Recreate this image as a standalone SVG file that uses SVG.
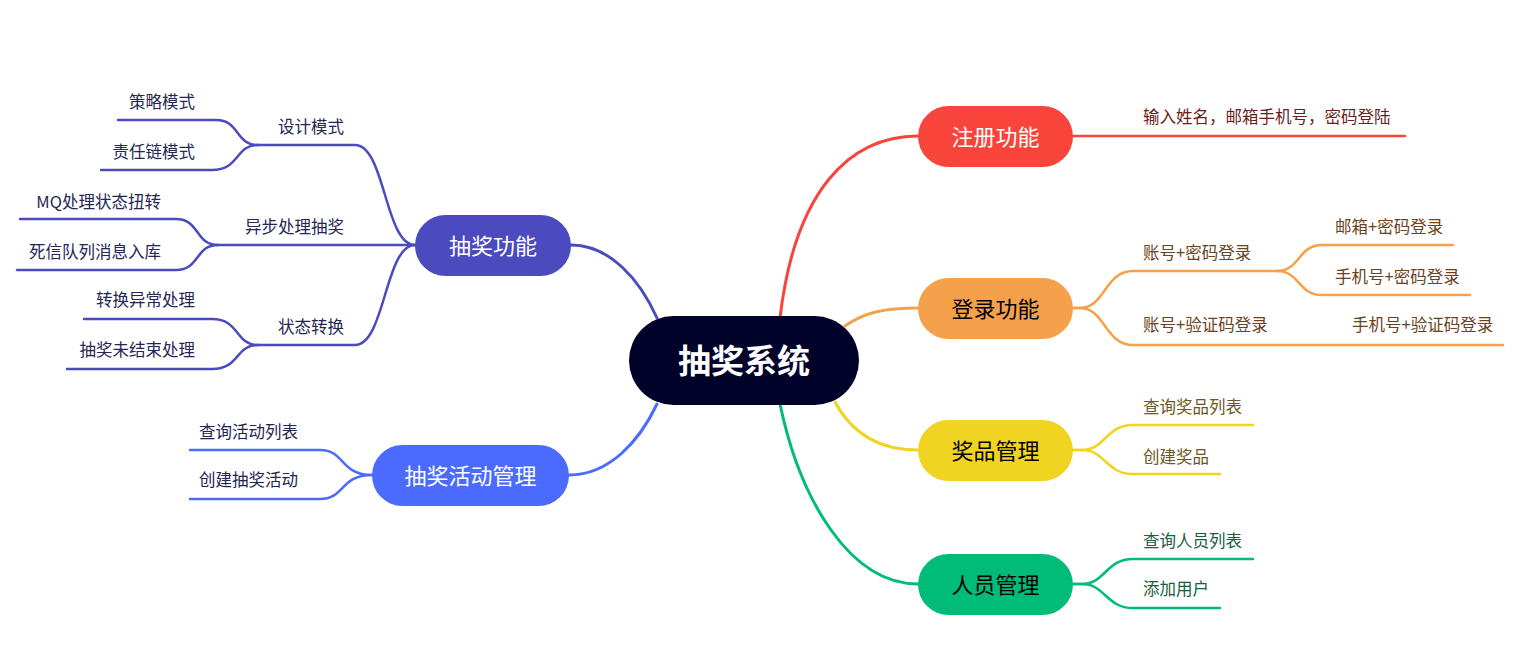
<svg xmlns="http://www.w3.org/2000/svg" width="1527" height="662" viewBox="0 0 1527 662">
<style>
text{font-family:"Noto Sans CJK SC","Noto Sans",sans-serif}
.c{fill:none;stroke-width:3;stroke-linecap:round}
.s{fill:none;stroke-width:2.5;stroke-linecap:round}
.nt{font-size:22px;text-anchor:middle}
.t{font-size:16.5px}
.r{stroke:#F9443C}.o{stroke:#F5A04A}.y{stroke:#F1D321}.g{stroke:#00BC78}.i{stroke:#4B4BBF}.b{stroke:#4A6BFD}
.ti{fill:#262652}.tb{fill:#1E2552}.tr{fill:#6B1E1A}.to{fill:#6B4321}.ty{fill:#6A5A1A}.tg{fill:#17603F}
.e{text-anchor:end}
</style>
<rect width="1527" height="662" fill="#fff"/>
<g id="connectors">
<path class="c r" d="M780,318 C795,190 850,136 918,136"/>
<path class="c o" d="M845,326 C865,312 885,308 918,308"/>
<path class="c y" d="M835,402 C850,430 875,450 918,450"/>
<path class="c g" d="M780,404 C800,500 850,584 918,584"/>
<path class="c i" d="M571,245 C610,245 640,280 657,318"/>
<path class="c b" d="M569,475 C610,475 640,440 657,404"/>
<path class="s i" d="M415,245 C385,245 385,145 355,145 H258"/>
<path class="s i" d="M415,245 H218"/>
<path class="s i" d="M415,245 C385,245 385,345 355,345 H258"/>
<path class="s i" d="M258,145 C235,145 240,120 216,120 H118"/>
<path class="s i" d="M258,145 C235,145 240,170 212,170 H101"/>
<path class="s i" d="M218,245 C195,245 200,219 176,219 H20"/>
<path class="s i" d="M218,245 C195,245 200,270 176,270 H17"/>
<path class="s i" d="M258,345 C235,345 240,319 212,319 H84"/>
<path class="s i" d="M258,345 C235,345 240,369 212,369 H67"/>
<path class="s b" d="M372,475 C340,475 345,450 320,450 H190"/>
<path class="s b" d="M372,475 C340,475 345,499 320,499 H190"/>
<path class="s r" d="M1073,136 H1405"/>
<path class="s o" d="M1073,308 H1080 C1105,308 1105,271 1133,271 H1277"/>
<path class="s o" d="M1073,308 H1080 C1105,308 1105,345 1133,345 H1503"/>
<path class="s o" d="M1277,271 C1300,271 1298,245 1322,245 H1453"/>
<path class="s o" d="M1277,271 C1300,271 1298,295 1322,295 H1470"/>
<path class="s y" d="M1073,450 H1082 C1105,450 1106,425 1133,425 H1253"/>
<path class="s y" d="M1073,450 H1082 C1105,450 1106,474 1133,474 H1220"/>
<path class="s g" d="M1073,584 H1082 C1105,584 1106,559 1133,559 H1253"/>
<path class="s g" d="M1073,584 H1082 C1105,584 1106,608 1133,608 H1220"/>
</g>
<g id="root">
<rect x="629" y="316" width="230" height="89" rx="44.5" fill="#000229"/>
<text x="744" y="373" text-anchor="middle" font-size="33" font-weight="bold" fill="#fff">抽奖系统</text>
</g>
<g id="n-zhuce">
<rect x="918" y="106" width="155" height="61" rx="30.5" fill="#F9443C"/>
<text class="nt" x="995.5" y="144.5" fill="#fff">注册功能</text>
</g>
<g id="n-denglu">
<rect x="918" y="278" width="155" height="61" rx="30.5" fill="#F5A04A"/>
<text class="nt" x="995.5" y="316.5" fill="#000">登录功能</text>
</g>
<g id="n-jiangpin">
<rect x="918" y="420" width="155" height="61" rx="30.5" fill="#F1D321"/>
<text class="nt" x="995.5" y="458.5" fill="#000">奖品管理</text>
</g>
<g id="n-renyuan">
<rect x="918" y="554" width="155" height="61" rx="30.5" fill="#00BC78"/>
<text class="nt" x="995.5" y="592.5" fill="#000">人员管理</text>
</g>
<g id="n-choujiang">
<rect x="415" y="215" width="156" height="61" rx="30.5" fill="#4B4BBF"/>
<text class="nt" x="493" y="253.5" fill="#fff">抽奖功能</text>
</g>
<g id="n-huodong">
<rect x="372" y="445" width="197" height="61" rx="30.5" fill="#4A6BFD"/>
<text class="nt" x="470.5" y="483.5" fill="#fff">抽奖活动管理</text>
</g>
<g id="leaf-left">
<text class="t ti e" x="344" y="132.5">设计模式</text>
<text class="t ti e" x="344" y="232.5">异步处理抽奖</text>
<text class="t ti e" x="344" y="332.5">状态转换</text>
<text class="t ti e" x="195" y="108">策略模式</text>
<text class="t ti e" x="195" y="158">责任链模式</text>
<text class="t ti e" x="161" y="207.5">MQ处理状态扭转</text>
<text class="t ti e" x="161" y="258">死信队列消息入库</text>
<text class="t ti e" x="195" y="306">转换异常处理</text>
<text class="t ti e" x="195" y="356">抽奖未结束处理</text>
<text class="t tb" x="199" y="438">查询活动列表</text>
<text class="t tb" x="199" y="486">创建抽奖活动</text>
</g>
<g id="leaf-right">
<text class="t tr" x="1143" y="123">输入姓名，邮箱手机号，密码登陆</text>
<text class="t to" x="1143" y="259">账号+密码登录</text>
<text class="t to" x="1143" y="331">账号+验证码登录</text>
<text class="t to" x="1335" y="233">邮箱+密码登录</text>
<text class="t to" x="1335" y="283">手机号+密码登录</text>
<text class="t to" x="1352" y="331">手机号+验证码登录</text>
<text class="t ty" x="1143" y="413">查询奖品列表</text>
<text class="t ty" x="1143" y="463">创建奖品</text>
<text class="t tg" x="1143" y="547">查询人员列表</text>
<text class="t tg" x="1143" y="595">添加用户</text>
</g>
</svg>
